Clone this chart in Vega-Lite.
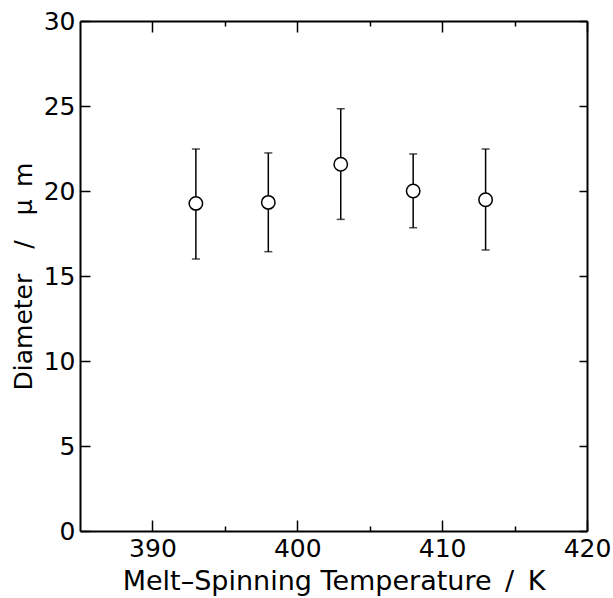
{
  "$schema": "https://vega.github.io/schema/vega-lite/v6.json",
  "width": 507,
  "height": 510,
  "autosize": {"type": "none"},
  "padding": {"left": 80, "top": 21, "right": 26, "bottom": 67},
  "background": "white",
  "config": {
    "view": {"stroke": null},
    "font": "DejaVu Sans",
    "axis": {"grid": false, "domainColor": "black", "domainWidth": 2, "tickColor": "black", "tickWidth": 1.5, "labelColor": "black", "titleColor": "black", "labelFont": "DejaVu Sans", "titleFont": "DejaVu Sans", "labelFontSize": 25, "titleFontSize": 26, "titleFontWeight": "normal"}
  },
  "data": {"values": [
    {"temp": 393, "dia": 19.27, "lo": 16.0, "hi": 22.47},
    {"temp": 398, "dia": 19.33, "lo": 16.43, "hi": 22.24},
    {"temp": 403, "dia": 21.57, "lo": 18.33, "hi": 24.84},
    {"temp": 408, "dia": 20.0, "lo": 17.84, "hi": 22.18},
    {"temp": 413, "dia": 19.49, "lo": 16.53, "hi": 22.47}
  ]},
  "resolve": {"axis": {"x": "independent", "y": "independent"}},
  "layer": [
    {
      "mark": {"type": "rule", "color": "black", "strokeWidth": 1.5},
      "encoding": {
        "x": {"field": "temp", "type": "quantitative", "scale": {"domain": [385, 420], "nice": false, "zero": false},
          "axis": {"orient": "bottom", "title": "Melt–Spinning Temperature\u2002/\u2002K", "titleFontSize": 27, "values": [390, 395, 400, 405, 410, 415, 420], "labelExpr": "datum.value % 10 === 0 ? datum.label : ''", "tickSize": {"condition": {"test": "datum.value % 10 !== 0", "value": -5}, "value": -11}, "labelPadding": 16, "titlePadding": 7, "labelFlush": false}},
        "y": {"field": "lo", "type": "quantitative", "scale": {"domain": [0, 30], "nice": false},
          "axis": {"orient": "left", "title": "Diameter\u2003/\u2003μ\u2002m", "titleFontSize": 25, "values": [0, 5, 10, 15, 20, 25, 30], "tickSize": -10, "labelPadding": 15, "titlePadding": 7, "labelFlush": false}},
        "y2": {"field": "hi"}
      }
    },
    {
      "mark": {"type": "tick", "orient": "horizontal", "color": "black", "size": 8, "thickness": 1.5},
      "encoding": {
        "x": {"field": "temp", "type": "quantitative", "axis": {"orient": "top", "title": null, "labels": false, "values": [390, 395, 400, 405, 410, 415, 420], "tickSize": {"condition": {"test": "datum.value % 10 !== 0", "value": -5}, "value": -11}}},
        "y": {"field": "hi", "type": "quantitative", "axis": {"orient": "right", "title": null, "labels": false, "values": [0, 5, 10, 15, 20, 25, 30], "tickSize": -8}}
      }
    },
    {
      "mark": {"type": "tick", "orient": "horizontal", "color": "black", "size": 8, "thickness": 1.5},
      "encoding": {
        "x": {"field": "temp", "type": "quantitative", "axis": null},
        "y": {"field": "lo", "type": "quantitative", "axis": null}
      }
    },
    {
      "mark": {"type": "point", "shape": "circle", "filled": false, "fill": "white", "fillOpacity": 1, "stroke": "black", "strokeWidth": 1.5, "size": 180, "opacity": 1},
      "encoding": {
        "x": {"field": "temp", "type": "quantitative", "axis": null},
        "y": {"field": "dia", "type": "quantitative", "axis": null}
      }
    }
  ]
}
